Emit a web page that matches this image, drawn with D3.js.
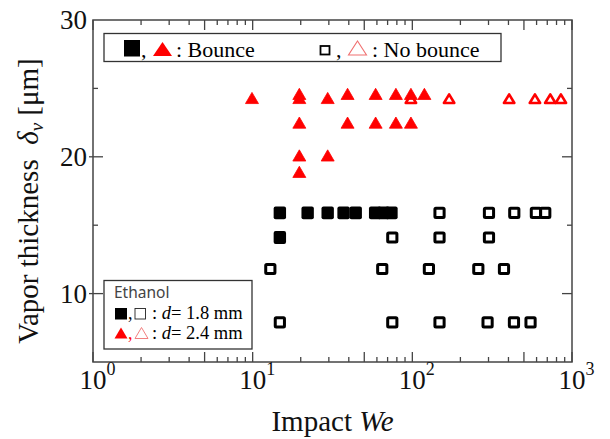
<!DOCTYPE html>
<html>
<head>
<meta charset="utf-8">
<script src="https://cdn.jsdelivr.net/npm/d3@7"></script>
<style>
  body { margin: 0; background: #fff; }
  svg { display: block; }
  .serif { font-family: "Liberation Serif", "Times New Roman", serif; }
</style>
</head>
<body>
<div id="chart"></div>
<script>
// d = 1.8 mm, bounce (filled squares)
var bounceSqWe = [14.8, 22.1, 29.5, 37.1, 44.2, 58.5, 66, 74, 14.8];
var bounceSqV  = [15.9, 15.9, 15.9, 15.9, 15.9, 15.9, 15.9, 15.9, 14.1];

// d = 1.8 mm, no bounce (open squares)
var noBounceSqWe = [148, 302, 435, 594, 680, 74.9, 148, 302, 12.9, 64.8, 127, 259, 375, 14.8, 74.9, 148, 296, 433, 550];
var noBounceSqV  = [15.9, 15.9, 15.9, 15.9, 15.9, 14.1, 14.1, 14.1, 11.8, 11.8, 11.8, 11.8, 11.8, 7.9, 7.9, 7.9, 7.9, 7.9, 7.9];

// d = 2.4 mm, bounce (filled triangles)
var bounceTriWe = [9.9, 19.6, 29.5, 19.6, 39.3, 58.9, 78.9, 98, 119, 19.6, 39.3, 58.9, 78.9, 98, 19.6, 29.5, 19.6];
var bounceTriV  = [24.3, 24.3, 24.3, 24.6, 24.6, 24.6, 24.6, 24.6, 24.6, 22.5, 22.5, 22.5, 22.5, 22.5, 20.1, 20.1, 18.9];

// d = 2.4 mm, no bounce (open triangles)
var noBounceTriWe = [98, 170, 404, 586, 731, 852];
var noBounceTriV  = [24.25, 24.25, 24.25, 24.25, 24.25, 24.25];

var xTickLabels = ["0", "1", "2", "3"];
var yTickLabels = [10, 20, 30];

var W = 610, H = 439;
var pLeft = 93, pRight = 572, pTop = 20, pBottom = 362;

var svg = d3.select("#chart").append("svg")
    .attr("width", W).attr("height", H);

var x = d3.scaleLog().domain([1, 1000]).range([pLeft, pRight]);
var y = d3.scaleLinear().domain([5, 30]).range([pBottom, pTop]);

var frameColor = "#444";
var red = "#ff0000", pink = "#f07070";

// ticks
var ticks = svg.append("g").attr("stroke", frameColor).attr("stroke-width", 1.3);
x.ticks().forEach(function(t) {
    var lg = Math.log10(t);
    var isMajor = Math.abs(lg - Math.round(lg)) < 1e-9;
    var isMid = Math.abs(lg - Math.floor(lg + 1e-9) - Math.log10(5)) < 1e-9;
    var len = (isMajor || isMid) ? 10 : 5;
    var px = x(t);
    ticks.append("line").attr("x1", px).attr("x2", px).attr("y1", pBottom).attr("y2", pBottom - len);
    ticks.append("line").attr("x1", px).attr("x2", px).attr("y1", pTop).attr("y2", pTop + len);
});
[10, 15, 20, 25].forEach(function(v) {
    var major = v % 10 == 0;
    var len = major ? 10 : 5;
    ticks.append("line").attr("x1", pLeft - (major ? 4 : 0)).attr("x2", pLeft + len).attr("y1", y(v)).attr("y2", y(v));
    ticks.append("line").attr("x1", pRight).attr("x2", pRight - len).attr("y1", y(v)).attr("y2", y(v));
});

// frame
svg.append("rect")
    .attr("x", pLeft).attr("y", pTop)
    .attr("width", pRight - pLeft).attr("height", pBottom - pTop)
    .attr("fill", "none").attr("stroke", frameColor).attr("stroke-width", 1.5);

// tick labels
var yl = svg.append("g").attr("class", "serif").attr("font-size", 27).attr("fill", "#111");
yTickLabels.forEach(function(v) {
    yl.append("text").attr("x", 87).attr("y", y(v) + 9)
        .attr("text-anchor", "end").text(v);
});
xTickLabels.forEach(function(e, i) {
    var px = x(Math.pow(10, i));
    yl.append("text").attr("x", px).attr("y", 389).attr("text-anchor", "middle").text("10");
    yl.append("text").attr("x", px + 13.5).attr("y", 375).attr("font-size", 18).text(e);
});

// axis titles
var xt = svg.append("text").attr("class", "serif").attr("font-size", 29).attr("fill", "#111")
    .attr("x", (pLeft + pRight) / 2).attr("y", 431).attr("text-anchor", "middle");
xt.append("tspan").text("Impact ");
xt.append("tspan").attr("font-style", "italic").text("We");

var yt = svg.append("text").attr("class", "serif").attr("font-size", 29).attr("fill", "#111")
    .attr("text-anchor", "middle")
    .attr("transform", "translate(38," + 201 + ") rotate(-90)");
yt.append("tspan").text("Vapor thickness\u00a0\u00a0");
yt.append("tspan").attr("font-style", "italic").text("\u03b4");
yt.append("tspan").attr("font-style", "italic").attr("font-size", 19).attr("dy", 5).text("v");
yt.append("tspan").attr("dy", -5).text(" [\u03bcm]");

// markers
function triPath(hw, hh) {
    return "M0," + (-hh) + "L" + hw + "," + hh + "L" + (-hw) + "," + hh + "Z";
}
var plot = svg.append("g");

plot.selectAll(".ntri").data(d3.zip(noBounceTriWe, noBounceTriV)).enter().append("path")
    .attr("d", triPath(5.2, 4.3))
    .attr("transform", function(d) { return "translate(" + x(d[0]) + "," + y(d[1]) + ")"; })
    .attr("fill", "#fff").attr("stroke", red).attr("stroke-width", 2.6).attr("stroke-linejoin", "round");

plot.selectAll(".btri").data(d3.zip(bounceTriWe, bounceTriV)).enter().append("path")
    .attr("d", triPath(6.5, 5.6))
    .attr("transform", function(d) { return "translate(" + x(d[0]) + "," + y(d[1]) + ")"; })
    .attr("fill", red).attr("stroke", red).attr("stroke-width", 0.8).attr("stroke-linejoin", "round");

plot.selectAll(".nsq").data(d3.zip(noBounceSqWe, noBounceSqV)).enter().append("rect")
    .attr("x", function(d) { return x(d[0]) - 4.6; })
    .attr("y", function(d) { return y(d[1]) - 4.6; })
    .attr("width", 9.2).attr("height", 9.2).attr("rx", 1)
    .attr("fill", "#fff").attr("stroke", "#000").attr("stroke-width", 3);

plot.selectAll(".bsq").data(d3.zip(bounceSqWe, bounceSqV)).enter().append("rect")
    .attr("x", function(d) { return x(d[0]) - 6.2; })
    .attr("y", function(d) { return y(d[1]) - 6.4; })
    .attr("width", 12.4).attr("height", 12.8).attr("rx", 2)
    .attr("fill", "#000");

// top legend
var lg1 = svg.append("g").attr("class", "serif");
lg1.append("rect").attr("x", 104).attr("y", 33.5).attr("width", 397).attr("height", 28)
    .attr("fill", "#fff").attr("stroke", "#333").attr("stroke-width", 1.3);
lg1.append("rect").attr("x", 124).attr("y", 40).attr("width", 16).attr("height", 16.5).attr("fill", "#000");
lg1.append("text").attr("x", 141).attr("y", 56.5).attr("font-size", 22).text(",");
lg1.append("path").attr("d", triPath(9.5, 7)).attr("transform", "translate(162.5,49)").attr("fill", red);
lg1.append("text").attr("x", 176).attr("y", 56.5).attr("font-size", 22).text(": Bounce");
lg1.append("rect").attr("x", 320.5).attr("y", 46).attr("width", 9).attr("height", 8.5)
    .attr("fill", "#fff").attr("stroke", "#000").attr("stroke-width", 1.8);
lg1.append("text").attr("x", 336).attr("y", 56.5).attr("font-size", 22).text(",");
lg1.append("path").attr("d", triPath(9, 7)).attr("transform", "translate(357.5,48)")
    .attr("fill", "none").attr("stroke", pink).attr("stroke-width", 1.1);
lg1.append("text").attr("x", 372).attr("y", 56.5).attr("font-size", 22).text(": No bounce");

// bottom legend
var lg2 = svg.append("g");
lg2.append("rect").attr("x", 104).attr("y", 280.5).attr("width", 148).attr("height", 68.5)
    .attr("fill", "#fff").attr("stroke", "#333").attr("stroke-width", 1.3);
lg2.append("text").attr("x", 114).attr("y", 298).attr("font-family", "'Noto Sans', sans-serif")
    .attr("font-size", 15.5).attr("fill", "#444").text("Ethanol");

lg2.append("rect").attr("x", 115).attr("y", 308).attr("width", 12).attr("height", 11.5).attr("fill", "#000");
lg2.append("text").attr("class", "serif").attr("x", 128).attr("y", 319).attr("font-size", 18).text(",");
lg2.append("rect").attr("x", 135).attr("y", 308.5).attr("width", 10.5).attr("height", 10.5)
    .attr("fill", "none").attr("stroke", "#222").attr("stroke-width", 0.9);
var r2 = lg2.append("text").attr("class", "serif").attr("x", 152).attr("y", 319).attr("font-size", 18.5);
r2.append("tspan").text(": ");
r2.append("tspan").attr("font-style", "italic").text("d");
r2.append("tspan").text("= 1.8 mm");

lg2.append("path").attr("d", triPath(6.5, 5.5)).attr("transform", "translate(121,333)").attr("fill", red);
lg2.append("text").attr("class", "serif").attr("x", 128).attr("y", 339).attr("font-size", 18).attr("fill", red).text(",");
lg2.append("path").attr("d", triPath(6.5, 5.5)).attr("transform", "translate(141.5,333)")
    .attr("fill", "none").attr("stroke", pink).attr("stroke-width", 0.9);
var r3 = lg2.append("text").attr("class", "serif").attr("x", 152).attr("y", 339).attr("font-size", 18.5);
r3.append("tspan").text(": ");
r3.append("tspan").attr("font-style", "italic").text("d");
r3.append("tspan").text("= 2.4 mm");
</script>
</body>
</html>
